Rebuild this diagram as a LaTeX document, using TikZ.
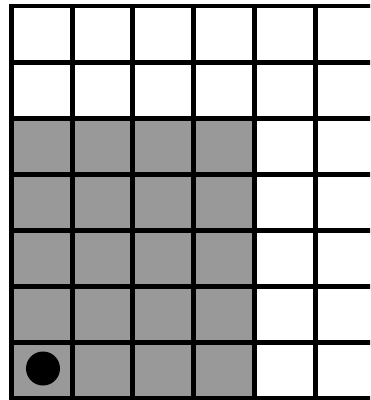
\documentclass[tikz,border=0pt]{standalone}
\usepackage{tikz}

\begin{document}
\begin{tikzpicture}[x=0.05cm, y=-0.05cm,
  gridline/.style={line width=0.25cm, draw=black, line cap=rect},
  visited/.style={fill=black!40},
  token/.style={circle, fill=black, inner sep=0pt, minimum width=1.6cm, minimum height=1.7cm}
]
\useasboundingbox (0,0) rectangle (370,400);
\clip (0,0) rectangle (370,400);
% shaded block of cells
\fill[visited] (11.5,119.5) rectangle (254,399);
% grid
\foreach \i in {0,...,6}
  \draw[gridline] ({11.5+60.7*\i},6) -- ({11.5+60.7*\i},399);
\foreach \j in {0,...,7}
  \draw[gridline] (11.5,{6+56.1*\j}) -- (380,{6+56.1*\j});
\node[token] (robot) at (43,368.5) {};
\end{tikzpicture}
\end{document}
